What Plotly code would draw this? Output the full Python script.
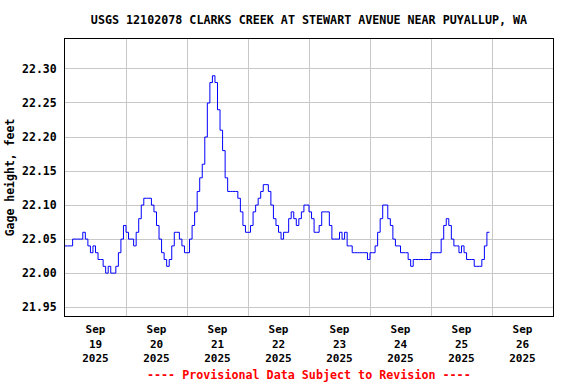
import plotly.graph_objects as go
import pandas as pd

title_text = "USGS 12102078 CLARKS CREEK AT STEWART AVENUE NEAR PUYALLUP, WA"
y_title = "Gage height, feet"
footer_text = "---- Provisional Data Subject to Revision ----"

start_time = "2025-09-19 00:00"
x_range = ["2025-09-19 00:00", "2025-09-27 00:00"]
y_range = [21.937, 22.344]

# hourly gage height readings (ft), Sep 19 00:00 onward
gage_height = [
    22.04, 22.04, 22.04, 22.05, 22.05, 22.05, 22.05, 22.06, 22.05, 22.04, 22.03, 22.04,
    22.03, 22.02, 22.02, 22.01, 22.00, 22.01, 22.00, 22.00, 22.01, 22.03, 22.05, 22.07,
    22.06, 22.05, 22.05, 22.04, 22.06, 22.08, 22.10, 22.11, 22.11, 22.11, 22.10, 22.09,
    22.07, 22.05, 22.03, 22.02, 22.01, 22.02, 22.04, 22.06, 22.06, 22.05, 22.04, 22.03,
    22.03, 22.05, 22.07, 22.09, 22.12, 22.14, 22.16, 22.20, 22.25, 22.28, 22.29, 22.28,
    22.24, 22.21, 22.18, 22.14, 22.12, 22.12, 22.12, 22.12, 22.11, 22.09, 22.07, 22.06,
    22.06, 22.07, 22.09, 22.10, 22.11, 22.12, 22.13, 22.13, 22.12, 22.10, 22.08, 22.07,
    22.06, 22.05, 22.06, 22.06, 22.08, 22.09, 22.08, 22.07, 22.08, 22.09, 22.10, 22.10,
    22.09, 22.08, 22.06, 22.06, 22.07, 22.09, 22.09, 22.09, 22.07, 22.05, 22.05, 22.05,
    22.06, 22.05, 22.06, 22.04, 22.04, 22.03, 22.03, 22.03, 22.03, 22.03, 22.03, 22.02,
    22.03, 22.03, 22.04, 22.06, 22.08, 22.10, 22.10, 22.08, 22.07, 22.05, 22.04, 22.04,
    22.03, 22.03, 22.03, 22.02, 22.01, 22.02, 22.02, 22.02, 22.02, 22.02, 22.02, 22.02,
    22.03, 22.03, 22.03, 22.03, 22.05, 22.07, 22.08, 22.07, 22.05, 22.04, 22.04, 22.03,
    22.04, 22.03, 22.02, 22.02, 22.02, 22.01, 22.01, 22.01, 22.02, 22.04, 22.06, 22.06,
]

times = pd.date_range(start_time, periods=len(gage_height), freq="h")

FONT = "DejaVu Sans Mono"
W, H = 576, 384
L, R, T, B = 65, 23, 39, 68
plot_h = H - T - B

fig = go.Figure()
fig.add_trace(go.Scatter(
    x=times, y=gage_height, mode="lines",
    line=dict(color="#0000FF", width=1, shape="hv"),
    showlegend=False, hoverinfo="skip",
))

fig.update_layout(
    width=W, height=H,
    margin=dict(l=L, r=R, t=T, b=B, autoexpand=False),
    paper_bgcolor="white", plot_bgcolor="white",
    font=dict(family=FONT, size=11, color="black", weight="bold"),
    title=dict(text=title_text, x=0.5, xref="paper", xanchor="center",
               y=1 - 20 / H, yref="container", yanchor="middle",
               font=dict(family=FONT, size=11.7, color="black", weight="bold")),
    annotations=[dict(text=footer_text, x=0.5, xref="paper", xanchor="center",
                      y=-(375 - (H - B)) / plot_h, yref="paper", yanchor="middle",
                      showarrow=False,
                      font=dict(family=FONT, size=11.7, color="#FF0000", weight="bold"))],
)

fig.update_xaxes(
    type="date", range=x_range,
    dtick=86400000, tick0="2025-09-19 00:00",
    ticklabelmode="period", tickformat="%b<br>%d<br>%Y",
    showgrid=True, gridcolor="#C8C8C8", gridwidth=1,
    showline=True, linecolor="black", linewidth=1, mirror=True,
    ticks="", zeroline=False, ticklabelstandoff=3, automargin=False,
    tickfont=dict(family=FONT, size=11, color="black", weight="bold"),
)
fig.update_yaxes(
    range=y_range, dtick=0.05, tick0=21.95, tickformat=".2f",
    showgrid=True, gridcolor="#C8C8C8", gridwidth=1,
    showline=True, linecolor="black", linewidth=1, mirror=True,
    ticks="", zeroline=False, ticklabelstandoff=5, automargin=False,
    title=dict(text=y_title, standoff=5,
               font=dict(family=FONT, size=11.5, color="black", weight="bold")),
    tickfont=dict(family=FONT, size=11.5, color="black", weight="bold"),
)

fig.write_html("out.html", config={"displayModeBar": False},
               post_script="document.body.style.margin='0px';")
